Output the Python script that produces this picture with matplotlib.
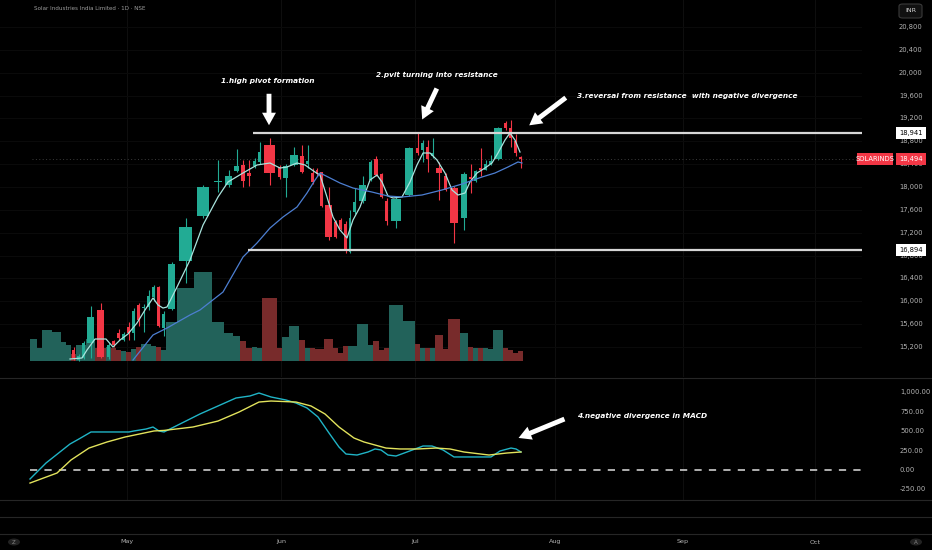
import numpy as np
import matplotlib
matplotlib.use("Agg")
import matplotlib.pyplot as plt
import matplotlib.transforms as mtrans
from matplotlib.lines import Line2D
from matplotlib.patches import FancyBboxPatch, Rectangle, Circle

W, H = 932, 550

# bar boundaries on the time axis (one bar per session)
edges = [30, 37, 42, 52, 61, 66, 71, 76, 81, 86, 95, 106, 111, 116, 121, 126, 131, 136, 141, 146,
         151, 156, 161, 166, 177, 194, 212, 224, 233, 240, 246, 252, 257, 262, 277, 282, 289, 299, 305, 310,
         315, 319, 324, 333, 338, 343, 348, 352, 357, 368, 373, 379, 384, 389, 403, 415, 420, 425, 430, 435,
         443, 448, 460, 468, 473, 478, 483, 488, 493, 503, 508, 513, 518, 523]

opens = [14150, 14250, 14300, 14420, 14520, 14580, 15150, 14980, 15010, 15270, 15850, 15020, 15300, 15450,
         15320, 15550, 15445, 15935, 15880, 15900, 16075, 16250, 15530, 15865, 16705, 17490, 18080, 18035,
         18280, 18385, 18250, 18370, 18440, 18735, 18350, 18155, 18385, 18540, 18400, 18245, 18300, 18260,
         17685, 17390, 17420, 17350, 16865, 17560, 17755, 18122, 18490, 18220, 17760, 17405, 17860, 18680,
         18650, 18700, 18550, 18330, 18190, 17980, 17455, 18175, 18105, 18330, 18300, 18400, 18490, 19120,
         19030, 18800, 18525]
highs = [14300, 14350, 14450, 14550, 14620, 14680, 15200, 15080, 15300, 15920, 15970, 15270, 15330, 15520,
         15460, 15640, 15880, 15970, 15950, 16190, 16290, 16270, 15830, 16690, 17460, 18030, 18470, 18300,
         18665, 18470, 18470, 18500, 18790, 18860, 18380, 18400, 18700, 18735, 18735, 18330, 18330, 18260,
         18000, 17420, 17450, 17400, 17600, 17990, 18200, 18470, 18540, 18240, 17800, 17820, 18700, 18945,
         18820, 18820, 18860, 18440, 18250, 18020, 18260, 18400, 18300, 18680, 18470, 18560, 19050, 19150,
         19170, 18920, 18540]
lows = [14100, 14200, 14250, 14380, 14480, 14550, 14970, 14950, 14990, 15010, 15000, 14990, 15200, 15330,
        15300, 15330, 15330, 15570, 15460, 15850, 16000, 15550, 15400, 15850, 16320, 17450, 17920, 18000,
        18260, 17995, 18020, 18340, 18400, 18035, 18140, 17825, 18360, 18240, 18330, 18050, 18200, 17650,
        17070, 17100, 17240, 16845, 16845, 17520, 17720, 18100, 18190, 17800, 17335, 17280, 17850, 18560,
        18440, 18260, 18500, 17770, 17930, 17020, 17245, 17900, 18090, 18200, 18300, 18380, 18470, 19000,
        18700, 18540, 18330]
closes = [14250, 14300, 14420, 14520, 14580, 14650, 15000, 15050, 15270, 15725, 15025, 15235, 15240, 15360,
          15430, 15445, 15830, 15670, 15900, 16090, 16250, 15570, 15780, 16650, 17300, 18000, 18110, 18190,
          18370, 18105, 18200, 18455, 18610, 18245, 18175, 18370, 18560, 18260, 18450, 18090, 18230, 17670,
          17125, 17125, 17265, 16900, 17460, 17740, 18035, 18435, 18210, 17820, 17405, 17790, 18680, 18595,
          18770, 18490, 18600, 18245, 17950, 17370, 18230, 18140, 18280, 18290, 18400, 18460, 19035, 19030,
          18855, 18595, 18494]
volume = [22, 13, 31, 29, 19, 16, 7, 16, 16, 22, 13, 14, 13, 11, 10, 9, 12, 14, 17, 17,
          15, 14, 11, 39, 73, 89, 39, 28, 25, 20, 13, 14, 13, 63, 13, 24, 35, 21, 13, 13,
          12, 12, 22, 13, 8, 15, 15, 15, 37, 16, 20, 11, 13, 56, 40, 17, 13, 13, 13, 26,
          12, 42, 28, 14, 13, 13, 13, 12, 31, 13, 11, 8, 10]

# moving averages
fast_t = [70, 82, 87, 95, 106, 113, 120, 128, 137, 145, 153, 158, 163, 167, 177, 190, 203, 218, 228, 243,
          257, 270, 280, 287, 297, 305, 315, 320, 327, 333, 340, 347, 353, 360, 370, 377, 382, 388, 393, 402,
          410, 417, 423, 430, 437, 445, 452, 458, 465, 470, 477, 485, 492, 498, 505, 510, 515, 520]
fast_ma = [14990, 15008, 15148, 15340, 15340, 15200, 15322, 15428, 15620, 15848, 16058, 15935, 15882, 15900,
           16250, 16722, 17335, 17825, 18088, 18245, 18385, 18420, 18332, 18350, 18420, 18385, 18262, 18210,
           17825, 17475, 17248, 17108, 17422, 17650, 18122, 18210, 18088, 17842, 17808, 17825, 18088, 18385,
           18595, 18595, 18472, 18245, 17948, 17860, 17895, 18088, 18245, 18332, 18420, 18595, 18822, 18945,
           18822, 18612]
slow_t = [133, 153, 167, 190, 200, 223, 243, 257, 270, 283, 297, 307, 315, 320, 330, 340, 353, 372, 388, 402,
          422, 442, 462, 482, 495, 508, 518, 522]
slow_ma = [14972, 15410, 15532, 15760, 15848, 16162, 16775, 17020, 17282, 17475, 17650, 17895, 18122, 18245,
           18158, 18070, 17982, 17912, 17842, 17825, 17860, 17948, 18052, 18175, 18245, 18350, 18438, 18420]

# MACD pane
macd_t = [30, 46, 70, 79, 91, 107, 129, 134, 146, 153, 159, 164, 200, 236, 250, 259, 271, 286, 296, 307,
          318, 329, 339, 346, 357, 368, 375, 381, 388, 396, 407, 423, 432, 443, 454, 471, 491, 500, 511, 516, 521]
macd = [-116, 90, 335, 400, 490, 490, 490, 503, 528, 554, 503, 490, 722, 928, 954, 992, 941, 902, 863, 799,
        683, 477, 296, 206, 193, 232, 271, 258, 193, 180, 232, 309, 309, 258, 168, 168, 168, 245, 283, 271, 232]
sig_t = [30, 57, 71, 89, 107, 125, 154, 164, 193, 218, 239, 259, 271, 296, 311, 325, 339, 354, 364, 386,
         400, 418, 436, 450, 464, 489, 507, 521]
signal = [-168, -39, 129, 283, 361, 425, 503, 510, 554, 631, 747, 876, 889, 876, 825, 722, 554, 412, 361, 283,
          271, 271, 283, 271, 232, 193, 219, 232]

months = ["May", "Jun", "Jul", "Aug", "Sep", "Oct"]
month_t = [127, 281, 415, 555, 683, 815]

resistance = 18941
support = 16894
last_price = 18494
price_ticks = list(range(15200, 20801, 400))
macd_ticks = [1000, 750, 500, 250, 0, -250]

UP, DOWN = "#22ab94", "#f23645"
VOL_UP, VOL_DOWN = "#22625a", "#782b2b"
LABEL = "#b4b4b4"
FONT = "DejaVu Sans"


def box(x0, y0, x1, y1):
    return [x0 / W, 1 - y1 / H, (x1 - x0) / W, (y1 - y0) / H]


def price_at(y):
    return 15200 + (347 - y) * 17.5


def macd_at(y):
    return (470 - y) / 0.0776


fig = plt.figure(figsize=(W / 100, H / 100), dpi=100, facecolor="black")

# volume (behind price)
axv = fig.add_axes(box(0, 0, 862, 377))
axv.set_facecolor("black")
axv.set_xlim(0, 862)
axv.set_ylim(-16, 361)
axv.axis("off")

ax = fig.add_axes(box(0, 0, 862, 377))
ax.patch.set_alpha(0)
ax.set_xlim(0, 862)
ax.set_ylim(price_at(377), price_at(0))
ax.axis("off")

axm = fig.add_axes(box(0, 378, 862, 500))
axm.set_facecolor("black")
axm.set_xlim(0, 862)
axm.set_ylim(macd_at(500), macd_at(378))
axm.axis("off")

e = np.array(edges, float)
t = (e[:-1] + e[1:]) / 2
span = np.diff(e)
o, h, l, c = (np.array(a, float) for a in (opens, highs, lows, closes))
up = c >= o

# faint grid
for m in month_t:
    axv.axvline(m, color="#0e0e0e", lw=0.8, zorder=0)
    axm.axvline(m, color="#0e0e0e", lw=0.8, zorder=0)
for p in price_ticks:
    axv.axhline((p - price_at(377)) / 17.5 - 16, color="#0a0a0a", lw=0.8, zorder=0)

axv.bar(t, volume, width=span - 0.8, color=np.where(up, VOL_UP, VOL_DOWN), zorder=1)

ccol = np.where(up, UP, DOWN)
ax.vlines(t, l, h, colors=ccol, lw=0.8, zorder=3)
ax.bar(t, np.maximum(np.abs(c - o), 18), bottom=np.minimum(o, c), width=span * 0.72, color=ccol, zorder=4)

ax.plot(fast_t, fast_ma, color="#a9e4de", lw=0.9, zorder=5)
ax.plot(slow_t, slow_ma, color="#4d7fd2", lw=0.9, zorder=5)

ax.axhline(last_price, xmin=32 / 862, color="#3c3c3c", lw=0.7, ls=(0, (1, 2.5)), zorder=2)
ax.hlines([resistance, support], [253, 248], 862, color="#d6d6d6", lw=1.6, zorder=6)

axm.plot(macd_t, macd, color="#20b4c6", lw=1.0, zorder=3)
axm.plot(sig_t, signal, color="#e2e35c", lw=1.0, zorder=4)
axm.hlines(0, 30, 862, color="#bdbdbd", lw=1.3, linestyles=(0, (4, 4)), zorder=2)

# annotations
txt = dict(color="white", fontsize=5.3, fontweight="bold", style="italic", family=FONT, va="center")
arrow = dict(arrowstyle="simple,head_length=0.9,head_width=1.0,tail_width=0.35", color="white", lw=0)
ax.text(268, price_at(81), "1.high pivot formation", ha="center", **txt)
ax.annotate("", xy=(269, price_at(128)), xytext=(269, price_at(91)), arrowprops=arrow)
ax.text(437, price_at(75), "2.pvit turning into resistance", ha="center", **txt)
ax.annotate("", xy=(421, price_at(122)), xytext=(438, price_at(86)), arrowprops=arrow)
ax.text(577, price_at(96), "3.reversal from resistance  with negative divergence", ha="left", **txt)
ax.annotate("", xy=(527, price_at(127)), xytext=(568, price_at(96)), arrowprops=arrow)
axm.text(577, macd_at(416), "4.negative divergence in MACD", ha="left", **txt)
axm.annotate("", xy=(516, macd_at(439)), xytext=(567, macd_at(418)), arrowprops=arrow)

# title
fig.text(34 / W, 1 - 8 / H, "Solar Industries India Limited · 1D · NSE", color="#9c9c9c",
         fontsize=4.1, family=FONT, va="center", ha="left")

# right price scale
tp = mtrans.blended_transform_factory(fig.transFigure, ax.transData)
for p in price_ticks:
    ax.text(899 / W, p, f"{p:,}", transform=tp, color=LABEL, fontsize=4.9, family=FONT,
            va="center", ha="left", clip_on=False)
tm = mtrans.blended_transform_factory(fig.transFigure, axm.transData)
for v in macd_ticks:
    axm.text(900 / W, v, f"{v:,.2f}", transform=tm, color=LABEL, fontsize=4.9, family=FONT,
             va="center", ha="left", clip_on=False)


def price_tag(a, x0, x1, y, text, fc, tc, trans):
    a.add_patch(Rectangle((x0 / W, y - 6 * 17.5), (x1 - x0) / W, 12 * 17.5, transform=trans,
                          facecolor=fc, edgecolor="none", clip_on=False, zorder=10))
    a.text((x0 + x1) / 2 / W, y, text, transform=trans, color=tc, fontsize=4.9, family=FONT,
           va="center", ha="center", clip_on=False, zorder=11)


price_tag(ax, 896, 926, resistance, f"{resistance:,}", "white", "black", tp)
price_tag(ax, 896, 926, support, f"{support:,}", "white", "black", tp)
price_tag(ax, 896, 926, last_price, f"{last_price:,}", DOWN, "white", tp)
price_tag(ax, 857, 893, last_price, "SOLARINDS", DOWN, "white", tp)

fig.add_artist(FancyBboxPatch((899 / W, 1 - 18 / H), 23 / W, 14 / H, boxstyle="round,pad=0,rounding_size=0.004",
                              transform=fig.transFigure, facecolor="#111111", edgecolor="#3a3a3a", lw=0.8))
fig.text(910.5 / W, 1 - 11 / H, "INR", color="#d0d0d0", fontsize=4.6, family=FONT, ha="center", va="center")

# pane separators
for yy in (377.5, 500, 517, 533.5):
    fig.add_artist(Line2D([0, 1], [1 - yy / H] * 2, color="#262626", lw=0.8, transform=fig.transFigure))

# time axis
for m, lab in zip(month_t, months):
    fig.text(m / W, 1 - 542 / H, lab, color=LABEL, fontsize=4.6, family=FONT, ha="center", va="center")
for cx, lab in ((14, "Z"), (916, "A")):
    fig.add_artist(Circle((cx / W, 1 - 542 / H), 6 / W, transform=fig.transFigure, facecolor="#222222",
                          edgecolor="none"))
    fig.text(cx / W, 1 - 542 / H, lab, color="#888888", fontsize=4, family=FONT, ha="center", va="center")

fig.savefig("out.png", dpi=100, facecolor="black")
